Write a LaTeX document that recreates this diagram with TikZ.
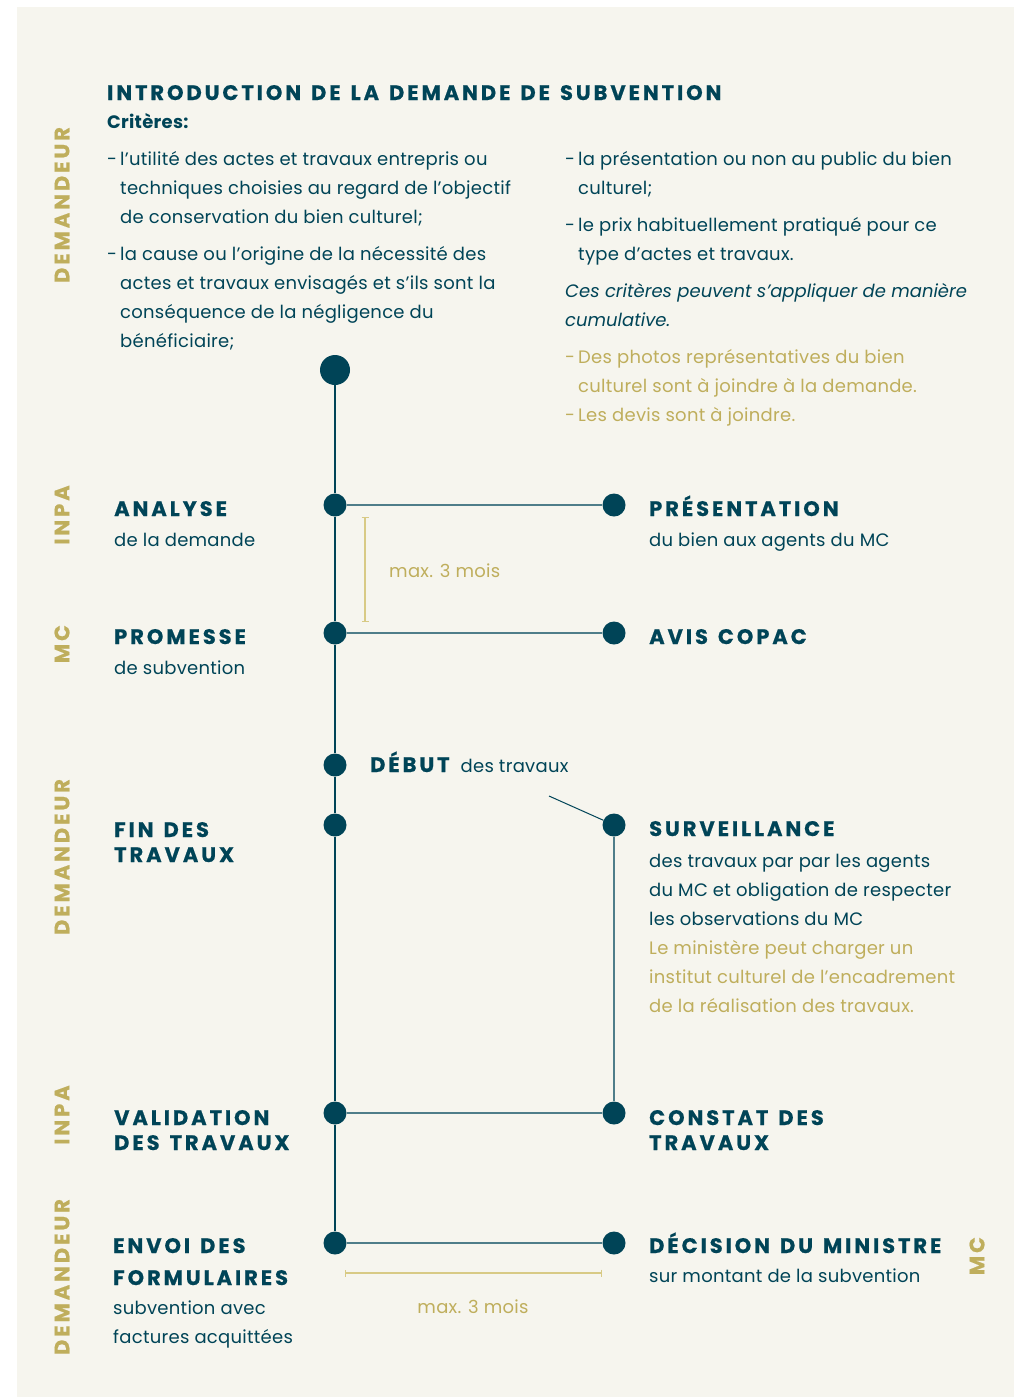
\documentclass[tikz,border=0pt]{standalone}
\usepackage{fontspec}
\setmainfont{Poppins}[LetterSpace=1.5,ItalicFeatures={LetterSpace=0}]
\newfontfamily\headfont{Poppins}[LetterSpace=14,WordSpace=1.35,BoldFeatures={FakeBold=0.6}]
\usetikzlibrary{arrows.meta}
\definecolor{petrol}{HTML}{004457}
\definecolor{lienclair}{HTML}{4F7D89}
\definecolor{ocre}{HTML}{BFAE5C}
\definecolor{ocreclair}{HTML}{D8CA85}
\definecolor{creme}{HTML}{F6F5EE}
\newcommand{\tiret}{\makebox[13pt][l]{-}}
\newcommand{\suite}{\hspace*{13pt}}

\begin{document}
\begin{tikzpicture}[x=1pt,y=-1pt,
  dot/.style={circle,fill=petrol,inner sep=0pt,minimum size=23pt},
  bigdot/.style={dot,minimum size=30pt},
  titre/.style={anchor=base west,inner sep=0pt,text=petrol,align=left,
    font=\headfont\bfseries\fontsize{21}{25}\selectfont},
  texte/.style={anchor=base west,inner sep=0pt,text=petrol,align=left,
    font=\fontsize{18}{29}\selectfont},
  role/.style={rotate=90,inner sep=0pt,text=ocre,
    font=\headfont\bfseries\fontsize{21}{21}\selectfont},
  liaison/.style={lienclair,line width=1.8pt},
  duree/.style={ocreclair,line width=1.3pt,{Bar[width=7pt]}-{Bar[width=7pt]}}]
\useasboundingbox (0,0) rectangle (1014,1398);
\fill[white] (0,0) rectangle (1014,1398);
\fill[creme] (17,7) rectangle (1014,1397);

% acteurs
\node[role] (r1) at (62,205) {DEMANDEUR};
\node[role] (r2) at (62,515) {INPA};
\node[role] (r3) at (62,644) {MC};
\node[role] (r4) at (62,857) {DEMANDEUR};
\node[role] (r5) at (62,1115) {INPA};
\node[role] (r6) at (62,1277) {DEMANDEUR};
\node[role] (r7) at (977,1256) {MC};

% introduction (multi-line nodes: anchored on the last baseline)
\node[titre] (intro) at (107,100) {INTRODUCTION DE LA DEMANDE DE SUBVENTION};
\node[texte,font=\bfseries\fontsize{18}{29}\selectfont] (crit) at (107,128) {Critères:};
\node[texte] (critg) at (107,347) {\tiret l’utilité des actes et travaux entrepris ou\\
  \suite techniques choisies au regard de l’objectif\\
  \suite de conservation du bien culturel;\\[8pt]
  \tiret la cause ou l’origine de la nécessité des\\
  \suite actes et travaux envisagés et s’ils sont la\\
  \suite conséquence de la négligence du\\
  \suite bénéficiaire;};
\node[texte] (critd) at (565,326) {\tiret la présentation ou non au public du bien\\
  \suite culturel;\\[8pt]
  \tiret le prix habituellement pratiqué pour ce\\
  \suite type d’actes et travaux.\\[8pt]
  \textit{Ces critères peuvent s’appliquer de manière}\\
  \textit{cumulative.}};
\node[texte,text=ocre] (pieces) at (565,421) {\tiret Des photos représentatives du bien\\
  \suite culturel sont à joindre à la demande.\\
  \tiret Les devis sont à joindre.};

% points de la ligne du temps
\node[bigdot] (d0) at (335,370) {};
\node[dot] (a1) at (335,505) {};
\node[dot] (b1) at (614,505) {};
\node[dot] (a2) at (335,633) {};
\node[dot] (b2) at (614,633) {};
\node[dot] (a3) at (335,765) {};
\node[dot] (a4) at (335,825) {};
\node[dot] (b4) at (614,825) {};
\node[dot] (a5) at (335,1113) {};
\node[dot] (b5) at (614,1113) {};
\node[dot] (a6) at (335,1243) {};
\node[dot] (b6) at (614,1243) {};
\coordinate (c1) at (549,796);

\draw[petrol,line width=1.2pt] (d0) -- (a1) -- (a2) -- (a3) -- (a4) -- (a5) -- (a6);
\draw[liaison] (a1) -- (b1);
\draw[liaison] (a2) -- (b2);
\draw[liaison] (a5) -- (b5);
\draw[liaison] (a6) -- (b6);
\draw[liaison,line width=1.5pt] (b4) -- (b5);
\draw[petrol,line width=1pt] (c1) -- (b4);

% durees
\coordinate (m1) at (365,517);
\coordinate (m2) at (365,622);
\coordinate (m3) at (345,1273);
\coordinate (m4) at (602,1273);
\draw[duree] (m1) -- (m2);
\draw[duree] (m3) -- (m4);
\node[texte,text=ocre] (t1) at (389,577) {max. 3 mois};
\node[texte,text=ocre,anchor=base] (t2) at (473,1313) {max. 3 mois};

% etapes
\node[titre] (analyse) at (114,516) {ANALYSE};
\node[texte] at (114,546) {de la demande};
\node[titre] (presentation) at (649,516) {PRÉSENTATION};
\node[texte] at (649,546) {du bien aux agents du MC};
\node[titre] (promesse) at (114,644) {PROMESSE};
\node[texte] at (114,674) {de subvention};
\node[titre] (copac) at (649,644) {AVIS COPAC};
\node[texte] (debut) at (370,772) {{\headfont\bfseries\fontsize{21}{25}\selectfont DÉBUT}\hspace{11pt}des travaux};
\node[titre] (fin) at (114,862) {FIN DES\\TRAVAUX};
\node[titre] (surveillance) at (649,836) {SURVEILLANCE};
\node[texte] (survtxt) at (649,1012) {des travaux par par les agents\\
  du MC et obligation de respecter\\
  les observations du MC\\
  \textcolor{ocre}{Le ministère peut charger un}\\
  \textcolor{ocre}{institut culturel de l’encadrement}\\
  \textcolor{ocre}{de la réalisation des travaux.}};
\node[titre] (validation) at (114,1150) {VALIDATION\\DES TRAVAUX};
\node[titre] (constat) at (649,1150) {CONSTAT DES\\TRAVAUX};
\node[titre,font=\headfont\bfseries\fontsize{21}{32}\selectfont] (envoi) at (113,1285) {ENVOI DES\\FORMULAIRES};
\node[texte] at (113,1343) {subvention avec\\factures acquittées};
\node[titre] (decision) at (649,1253) {DÉCISION DU MINISTRE};
\node[texte] at (649,1282) {sur montant de la subvention};
\end{tikzpicture}
\end{document}
